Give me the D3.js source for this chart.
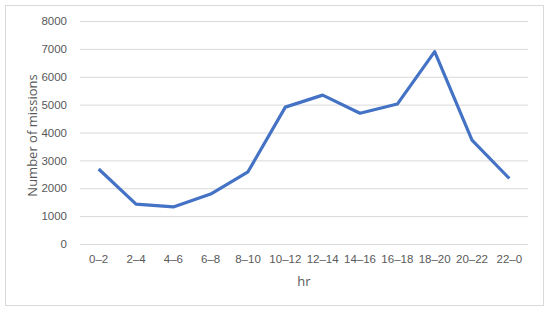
<!DOCTYPE html>
<html>
<head>
<meta charset="utf-8">
<script src="https://cdn.jsdelivr.net/npm/d3@7"></script>
<style>
  html, body { margin: 0; padding: 0; background: #fff; }
  svg { display: block; font-family: "Open Sans", sans-serif; }
</style>
</head>
<body>
<svg id="chart" width="550" height="312"></svg>
<script>
const categories = ["0–2", "2–4", "4–6", "6–8", "8–10", "10–12", "12–14", "14–16", "16–18", "18–20", "20–22", "22–0"];
const missions = [2690, 1430, 1330, 1790, 2590, 4910, 5340, 4690, 5020, 6900, 3730, 2350];
const yTicks = [0, 1000, 2000, 3000, 4000, 5000, 6000, 7000, 8000];

const svg = d3.select("#chart");
const margin = { top: 21, right: 22, bottom: 68, left: 80 };
const width = 550 - margin.left - margin.right;
const height = 312 - margin.top - margin.bottom;

svg.append("rect")
  .attr("x", 5.5).attr("y", 5.5)
  .attr("width", 538).attr("height", 300)
  .attr("fill", "#fff").attr("stroke", "#d9d9d9");

const g = svg.append("g").attr("transform", `translate(${margin.left},${margin.top})`);

const x = d3.scaleBand().domain(categories).range([0, width]);
const y = d3.scaleLinear().domain([0, 8000]).range([height, 0]);

const yAxis = g.append("g")
  .call(d3.axisLeft(y).tickValues(yTicks).tickSize(-width).tickPadding(13).tickFormat(d3.format("d")));
yAxis.select(".domain").remove();
yAxis.selectAll(".tick line").attr("stroke", "#d9d9d9");
yAxis.selectAll(".tick text").attr("fill", "#595959").style("font-size", "11.5px");

const xAxis = g.append("g")
  .attr("transform", `translate(0,${height})`)
  .call(d3.axisBottom(x).tickSize(0).tickPadding(11));
xAxis.select(".domain").remove();
xAxis.selectAll(".tick text").attr("fill", "#595959").style("font-size", "11.5px");

const line = d3.line()
  .x((d, i) => x(categories[i]) + x.bandwidth() / 2)
  .y(d => y(d));

g.append("path")
  .datum(missions)
  .attr("fill", "none")
  .attr("stroke", "#4472c4")
  .attr("stroke-width", 3.2)
  .attr("stroke-linejoin", "round")
  .attr("d", line);

svg.append("text")
  .attr("x", margin.left + width / 2)
  .attr("y", 286)
  .attr("text-anchor", "middle")
  .attr("fill", "#595959")
  .style("font-size", "13px")
  .text("hr");

svg.append("text")
  .attr("transform", `translate(37,${margin.top + height / 2 + 3}) rotate(-90)`)
  .attr("text-anchor", "middle")
  .attr("fill", "#595959")
  .style("font-size", "13px")
  .text("Number of missions");
</script>
</body>
</html>
